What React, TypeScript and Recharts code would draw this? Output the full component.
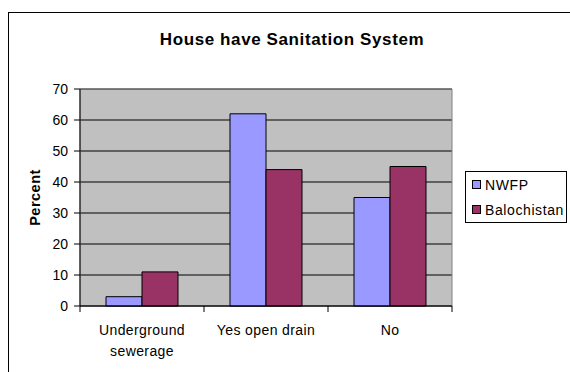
import React from 'react';
import {
  BarChart,
  Bar,
  XAxis,
  YAxis,
  CartesianGrid,
  Legend,
  ReferenceArea,
  Text,
} from 'recharts';

// Survey categories and the share of houses (percent) in each province
const categories = ['Underground sewerage', 'Yes open drain', 'No'];
const nwfpValues = [3, 62, 35];
const balochistanValues = [11, 44, 45];
const yTicks = [0, 10, 20, 30, 40, 50, 60, 70];

const seriesNames = ['NWFP', 'Balochistan'];
const seriesColors = ['#9999FF', '#993366'];

const data = categories.map((category, i) => ({
  category,
  [seriesNames[0]]: nwfpValues[i],
  [seriesNames[1]]: balochistanValues[i],
}));

const FONT = '"Liberation Sans", Arial, sans-serif';

// Category label that wraps long names, with tick marks on the band edges
const CategoryTick = (props: any) => {
  const { x, y, payload, index, visibleTicksCount } = props;
  const half = payload && typeof payload.offset === 'number' ? payload.offset : 62;
  const axisY = y - 6;
  const isLast = index === (visibleTicksCount ?? categories.length) - 1;
  return (
    <g>
      <line x1={x - half} x2={x - half} y1={axisY} y2={axisY + 6} stroke="#000" />
      {isLast && <line x1={x + half} x2={x + half} y1={axisY} y2={axisY + 6} stroke="#000" />}
      <Text
        x={x}
        y={y + 13}
        width={112}
        textAnchor="middle"
        verticalAnchor="start"
        lineHeight={21}
        fill="#000"
        fontSize={14}
        fontFamily={FONT}
        letterSpacing={0.4}
        style={{ fontSize: 14, fontFamily: FONT }}
      >
        {payload.value}
      </Text>
    </g>
  );
};

const LegendBox = (props: any) => {
  const raw = props.payload || [];
  const items = seriesNames
    .map((name) => raw.find((p: any) => p.value === name))
    .filter(Boolean);
  return (
    <div
      style={{
        width: 102,
        height: 52,
        boxSizing: 'border-box',
        border: '1px solid #000',
        background: '#fff',
        fontFamily: FONT,
        fontSize: 14,
        letterSpacing: 0.6,
        color: '#000',
      }}
    >
      {items.map((item: any) => (
        <div
          key={item.value}
          style={{ height: 25, display: 'flex', alignItems: 'center', paddingLeft: 6 }}
        >
          <span
            style={{
              display: 'inline-block',
              width: 7,
              height: 7,
              background: item.color,
              border: '1px solid #000',
              marginRight: 4,
            }}
          />
          <span style={{ lineHeight: '16px' }}>{item.value}</span>
        </div>
      ))}
    </div>
  );
};

const PercentLabel = (props: any) => {
  const { viewBox } = props;
  const cx = viewBox.x;
  const cy = viewBox.y + viewBox.height / 2;
  return (
    <text
      x={cx}
      y={cy}
      transform={`rotate(-90, ${cx}, ${cy})`}
      textAnchor="middle"
      fontFamily={FONT}
      fontWeight="bold"
      fontSize={14.5}
      letterSpacing={0.5}
      fill="#000"
    >
      Percent
    </text>
  );
};

export default function App() {
  return (
    <div
      style={{
        position: 'fixed',
        left: 0,
        top: 0,
        width: 570,
        height: 372,
        overflow: 'hidden',
        background: '#fff',
        fontFamily: FONT,
      }}
    >
      <div
        style={{
          position: 'absolute',
          left: 8,
          top: 12,
          width: 640,
          height: 420,
          border: '1px solid #000',
        }}
      />
      <div
        style={{
          position: 'absolute',
          left: 292,
          top: 31,
          transform: 'translateX(-50%)',
          whiteSpace: 'nowrap',
          fontFamily: FONT,
          fontWeight: 'bold',
          fontSize: 17,
          lineHeight: '17px',
          letterSpacing: 0.6,
          color: '#000',
        }}
      >
        House have Sanitation System
      </div>
      <div style={{ position: 'absolute', left: 0, top: 0 }}>
        <BarChart
          width={570}
          height={372}
          data={data}
          margin={{ top: 89, right: 118, bottom: 6, left: 40 }}
          barGap={0}
          barSize={36}
        >
          <CartesianGrid vertical={false} stroke="#000" fill="#C0C0C0" fillOpacity={1} />
          <ReferenceArea y1={0} y2={70} fill="none" stroke="#808080" strokeWidth={1} />
          <XAxis
            dataKey="category"
            height={60}
            stroke="#000"
            tickLine={false}
            tickSize={6}
            tickMargin={0}
            interval={0}
            tick={<CategoryTick />}
          />
          <YAxis
            width={40}
            domain={[0, 70]}
            ticks={yTicks}
            interval={0}
            stroke="#000"
            tickSize={6}
            tickMargin={6}
            tick={{ fill: '#000', fontSize: 14, fontFamily: FONT }}
            label={<PercentLabel />}
          />
          <Legend
            layout="horizontal"
            verticalAlign="middle"
            align="center"
            content={<LegendBox />}
            wrapperStyle={{ left: 465, top: 171, width: 102, height: 52 }}
          />
          <Bar
            dataKey={seriesNames[0]}
            fill={seriesColors[0]}
            stroke="#000"
            strokeWidth={1}
            isAnimationActive={false}
          />
          <Bar
            dataKey={seriesNames[1]}
            fill={seriesColors[1]}
            stroke="#000"
            strokeWidth={1}
            isAnimationActive={false}
          />
        </BarChart>
      </div>
    </div>
  );
}
